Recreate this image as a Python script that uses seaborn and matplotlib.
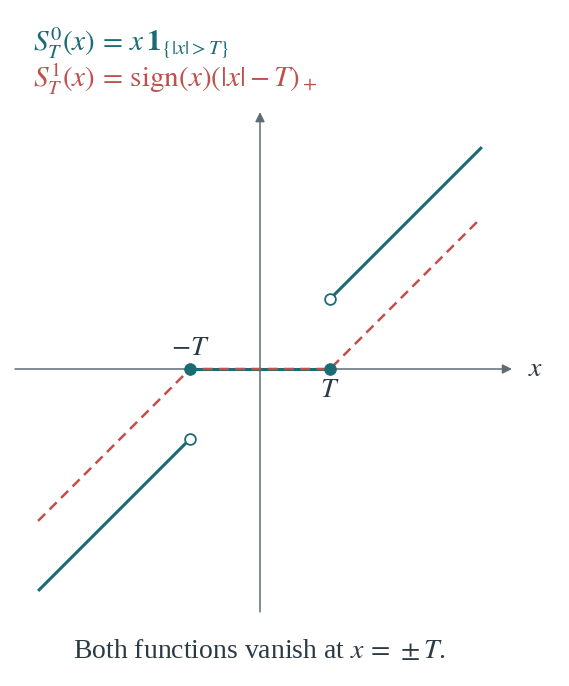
import numpy as np
import pandas as pd
import matplotlib
matplotlib.use("Agg")
import matplotlib.pyplot as plt
import seaborn as sns

# threshold and the x range shown
T = 1.0
x_lo, x_hi = -3.17, 3.17
x_marks = [-T, T]

teal = "#1b6b74"
red = "#c0504d"
axis_col = "#5f6c75"
ink = "#2b3a45"

sns.set_theme(style="white")
plt.rcParams["font.family"] = ["Liberation Serif", "DejaVu Serif"]
plt.rcParams["mathtext.fontset"] = "stix"

fig = plt.figure(figsize=(5.69, 6.86), dpi=100)
ax = fig.add_axes([0, 0, 1, 1])
ax.set_xlim(-260 / 70, (569 - 260) / 70)
ax.set_ylim(-(686 - 369) / 70, 369 / 70)
ax.set_axis_off()

# axes with arrows
ax.annotate("", xy=(3.6, 0), xytext=(-3.5, 0),
            arrowprops=dict(arrowstyle="-|>", color=axis_col, lw=1.1,
                            mutation_scale=14, shrinkA=0, shrinkB=0))
ax.annotate("", xy=(0, 3.67), xytext=(0, -3.47),
            arrowprops=dict(arrowstyle="-|>", color=axis_col, lw=1.1,
                            mutation_scale=14, shrinkA=0, shrinkB=0))
ax.text(3.93, 0, "$x$", fontsize=20, color=ink, ha="center", va="center")

# hard threshold: x for |x|>T, zero in between
xl = np.array([x_lo, -T])
xr = np.array([T, x_hi])
xm = np.array([-T, T])
hard = pd.concat([
    pd.DataFrame({"x": xl, "y": xl, "seg": "l"}),
    pd.DataFrame({"x": xm, "y": xm * 0, "seg": "m"}),
    pd.DataFrame({"x": xr, "y": xr, "seg": "r"}),
])
for s, d in hard.groupby("seg"):
    sns.lineplot(data=d, x="x", y="y", color=teal, lw=2.2, ax=ax,
                 solid_capstyle="butt", zorder=3)

# soft threshold: sign(x)(|x|-T)+
xs = np.array([x_lo, -T, T, x_hi - 0.05])
soft = np.sign(xs) * np.clip(np.abs(xs) - T, 0, None)
sns.lineplot(x=xs, y=soft, color=red, lw=1.8, ax=ax, sort=False,
             dashes=False, linestyle=(0, (4, 2.5)), zorder=4)

# filled dots where both vanish, open dots at the jumps
xm_arr = np.array(x_marks)
sns.scatterplot(x=xm_arr, y=xm_arr * 0, color=teal, s=70, ax=ax,
                edgecolor=teal, zorder=5)
sns.scatterplot(x=xm_arr, y=xm_arr, color="white", s=60, ax=ax,
                edgecolor=teal, linewidth=1.3, zorder=5)

ax.text(-T, 0.3, "$-T$", fontsize=20, color=ink, ha="center", va="center")
ax.text(T, -0.31, "$T$", fontsize=20, color=ink, ha="center", va="center")

fig.text(33 / 569, 1 - 43 / 686,
         r"$S_T^0(x)\, =\, x\,\mathbf{1}_{\{|x|>T\}}$",
         fontsize=21, color=teal, ha="left", va="center")
fig.text(33 / 569, 1 - 79 / 686,
         r"$S_T^1(x)\, =\, \mathrm{sign}(x)(|x| - T)_+$",
         fontsize=21, color=red, ha="left", va="center")
fig.text(260 / 569, 1 - 652 / 686,
         r"Both functions vanish at $x\,=\,\pm T$.",
         fontsize=20, color=ink, ha="center", va="center")

fig.savefig("out.png", dpi=100)
